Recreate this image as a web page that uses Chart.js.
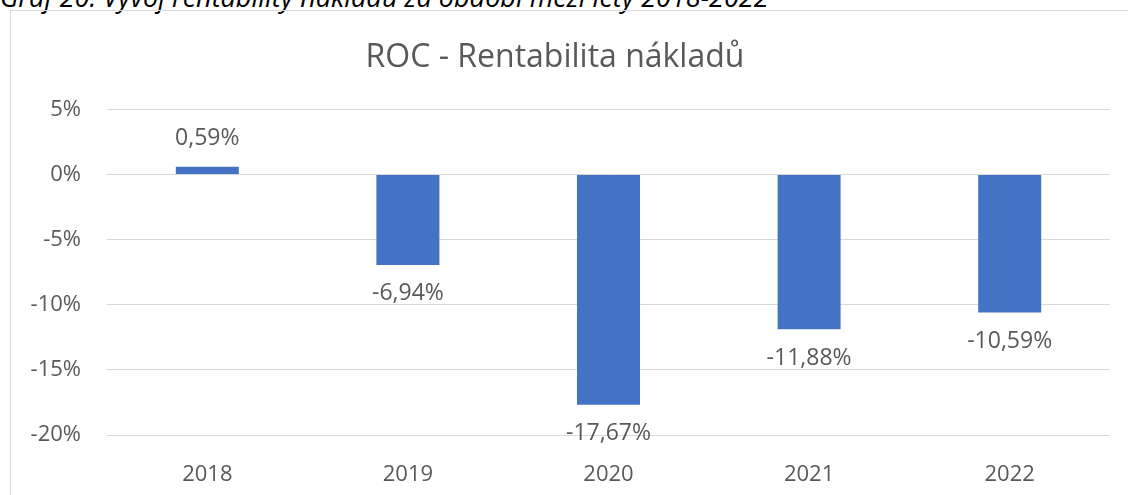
<!DOCTYPE html>
<html>
<head>
<meta charset="utf-8">
<script src="https://cdn.jsdelivr.net/npm/chart.js@4"></script>
<style>
  html, body { margin: 0; padding: 0; width: 1128px; height: 495px; overflow: hidden; background: #fff; }
  #caption {
    position: absolute; left: 0; top: -17px; white-space: nowrap;
    font-family: "Open Sans", sans-serif; font-style: italic; font-size: 27px; line-height: 27px; color: #000;
  }
  #frame { position: absolute; left: 10px; top: 10px; width: 1300px; height: 700px; border: 1px solid #d9d9d9; }
  #wrap { position: absolute; left: 0; top: 0; width: 1128px; height: 495px; }
</style>
</head>
<body>
<div id="caption">Graf 20: Vývoj rentability nákladů za období mezi lety 2018-2022</div>
<div id="frame"></div>
<div id="wrap"><canvas id="roc-chart"></canvas></div>
<script>
const years = ['2018', '2019', '2020', '2021', '2022'];
const rocValues = [0.59, -6.94, -17.67, -11.88, -10.59];
const yTicks = [5, 0, -5, -10, -15, -20];

const textColor = '#595959';
const fontFamily = '"Open Sans", sans-serif';

// Excel-like value labels outside the bar ends
const valueLabels = {
    id: 'valueLabels',
    afterDatasetsDraw(chart) {
        const ctx = chart.ctx;
        const meta = chart.getDatasetMeta(0);
        ctx.save();
        ctx.font = '23px ' + fontFamily;
        ctx.fillStyle = textColor;
        ctx.textAlign = 'center';
        ctx.textBaseline = 'middle';
        meta.data.forEach((bar, i) => {
            const v = rocValues[i];
            const y = v >= 0 ? bar.y - 28 : bar.y + 29;
            ctx.fillText(v.toFixed(2).replace('.', ',') + '%', bar.x, y);
        });
        ctx.restore();
    }
};

new Chart(document.getElementById('roc-chart').getContext('2d'), {
    type: 'bar',
    data: {
        labels: years,
        datasets: [{
            data: rocValues,
            backgroundColor: '#4472C4',
            borderWidth: 0,
            barPercentage: 1,
            categoryPercentage: 0.314
        }]
    },
    options: {
        responsive: true,
        maintainAspectRatio: false,
        animation: false,
        layout: { padding: { left: 0, right: 18, top: 0, bottom: 0 } },
        scales: {
            x: {
                grid: { display: false },
                border: { display: false },
                ticks: { color: textColor, font: { family: fontFamily, size: 22 }, padding: 19 },
                afterFit: scale => { scale.height = 60; }
            },
            y: {
                min: -20,
                max: 5,
                afterBuildTicks: scale => { scale.ticks = yTicks.map(v => ({ value: v })); },
                grid: { color: '#d9d9d9', lineWidth: 1, drawTicks: false },
                border: { display: false },
                ticks: {
                    color: textColor,
                    font: { family: fontFamily, size: 22 },
                    padding: 26,
                    callback: v => v + '%'
                },
                afterFit: scale => { scale.width = 107; }
            }
        },
        plugins: {
            legend: { display: false },
            tooltip: { enabled: false },
            title: {
                display: true,
                text: 'ROC - Rentabilita nákladů',
                color: textColor,
                font: { family: fontFamily, size: 32, weight: 'normal' },
                padding: { top: 39, bottom: 32 }
            }
        }
    },
    plugins: [valueLabels]
});
</script>
</body>
</html>
